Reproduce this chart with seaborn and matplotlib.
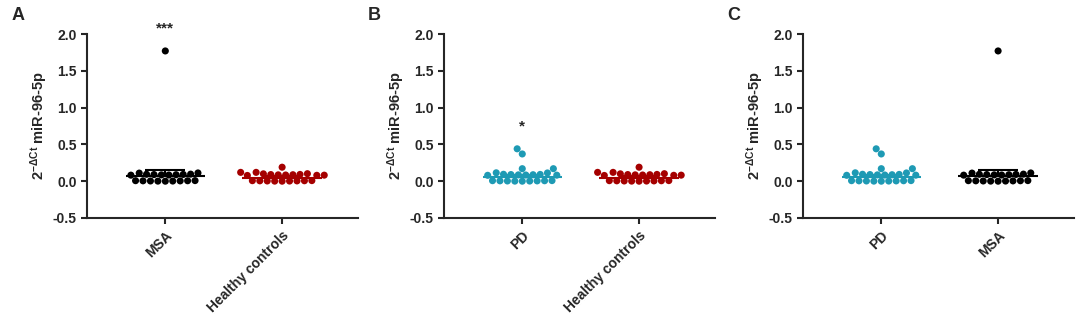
import pandas as pd
import matplotlib.pyplot as plt
import seaborn as sns

# Values (2^-dCt miR-96-5p per subject)
msa = [0.000, 0.001, 0.002, 0.003, 0.004, 0.005, 0.006, 0.007, 0.008,
       0.082, 0.084, 0.086, 0.088, 0.090, 0.092, 0.094, 0.096,
       0.110, 0.112, 1.77]
hc = [0.000, 0.001, 0.002, 0.003, 0.004, 0.005, 0.006, 0.007, 0.008,
      0.078, 0.080, 0.082, 0.084, 0.086, 0.088, 0.090, 0.092,
      0.100, 0.102, 0.12, 0.12, 0.19]
pd_vals = [0.000, 0.001, 0.002, 0.003, 0.004, 0.005, 0.006, 0.007, 0.008,
           0.080, 0.082, 0.084, 0.086, 0.088, 0.090, 0.092, 0.094,
           0.112, 0.114, 0.17, 0.17, 0.37, 0.44]

# centre line and upper error bar per group
centre = {"MSA": 0.075, "Healthy controls": 0.05, "PD": 0.055}
upper = {"MSA": 0.15, "Healthy controls": 0.07, "PD": 0.08}

colors = {"MSA": "#000000", "Healthy controls": "#A50000", "PD": "#1E9AB4"}

panels = [("A", ["MSA", "Healthy controls"], "***", "MSA", 2.07),
          ("B", ["PD", "Healthy controls"], "*", "PD", 0.74),
          ("C", ["PD", "MSA"], None, None, None)]

df = pd.concat([
    pd.DataFrame({"group": "MSA", "value": msa}),
    pd.DataFrame({"group": "Healthy controls", "value": hc}),
    pd.DataFrame({"group": "PD", "value": pd_vals}),
])

sns.set_style("ticks")
plt.rcParams['font.family'] = ['Liberation Sans', 'DejaVu Sans']
plt.rcParams['font.weight'] = 'bold'
plt.rcParams['axes.linewidth'] = 1.5
plt.rcParams['mathtext.fontset'] = 'custom'
plt.rcParams['mathtext.bf'] = 'Liberation Sans:bold'
plt.rcParams['mathtext.rm'] = 'Liberation Sans:bold'

fig = plt.figure(figsize=(10.84, 3.15), dpi=100)
lefts = [0.0803, 0.4096, 0.7408]

for (letter, order, star, star_grp, star_y), left in zip(panels, lefts):
    ax = fig.add_axes([left, 0.308, 0.25, 0.584])
    sub = df[df["group"].isin(order)]
    sns.swarmplot(data=sub, x="group", y="value", order=order, hue="group",
                  palette=colors, size=5.1, legend=False, ax=ax, zorder=2)
    for i, g in enumerate(order):
        c = colors[g]
        ax.hlines(centre[g], i - 0.34, i + 0.34, color=c, lw=1.5, zorder=3)
        ax.vlines(i, centre[g], upper[g], color=c, lw=1.5, zorder=3)
        ax.hlines(upper[g], i - 0.17, i + 0.17, color=c, lw=1.5, zorder=3)
    ax.set_xlim(-0.67, 1.65)
    ax.set_ylim(-0.5, 2.0)
    ax.set_yticks([-0.5, 0.0, 0.5, 1.0, 1.5, 2.0])
    ax.set_yticklabels(["-0.5", "0.0", "0.5", "1.0", "1.5", "2.0"],
                       fontsize=10, fontweight='bold')
    ax.set_xticks([0, 1])
    ax.set_xticklabels(order, rotation=45, ha='right', rotation_mode='anchor',
                       fontsize=10, fontweight='bold')
    ax.set_xlabel("")
    ax.set_ylabel(r"$\mathbf{2^{-\Delta Ct}}$ miR-96-5p", fontsize=10.5,
                  fontweight='bold', labelpad=2)
    ax.tick_params(width=1.5, length=4)
    sns.despine(ax=ax)
    if star:
        ax.text(order.index(star_grp), star_y, star, ha='center', va='center',
                fontsize=11, clip_on=False)
    fig.text(left - 0.07, 0.95, letter, fontsize=13, fontweight='bold',
             ha='left', va='center')

plt.savefig("out.png", dpi=100)
